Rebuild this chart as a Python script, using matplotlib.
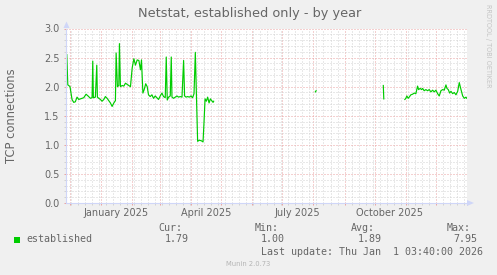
import datetime as dt
import numpy as np
import matplotlib
matplotlib.use("Agg")
import matplotlib.pyplot as plt
import matplotlib.dates as mdates
from matplotlib.patches import Polygon, Rectangle

W, H = 497, 275
START = dt.datetime(2024, 11, 27, 3, 40)
END = dt.datetime(2026, 1, 1, 3, 40)

# days since START and established connections; NaN = no data
days = [0.8, 1.8, 2.7, 4.0, 6.0, 7.7, 9.3, 11.0, 12.7, 14.3, 16.0, 17.7, 20.0,
        22.0, 24.3, 26.0, 26.7, 27.3, 29.3, 30.7, 31.3, 32.7, 34.3, 36.0, 37.7,
        39.3, 41.0, 42.7, 44.3, 46.0, 47.7, 49.3, 50.0, 51.3, 52.7, 53.3, 54.3,
        56.0, 57.7, 59.3, 61.0, 62.7, 64.3, 66.0, 67.7, 69.3, 71.0, 72.7, 74.3,
        75.3, 76.7, 78.0, 79.5, 81.0, 82.3, 84.0, 85.7, 87.3, 89.0, 90.7, 92.3,
        94.0, 95.7, 97.3, 99.0, 100.0, 101.0, 102.3, 104.0, 105.0, 105.7, 107.3,
        109.0, 110.7, 112.3, 114.0, 115.7, 117.3, 118.3, 119.7, 121.3, 123.0,
        124.7, 126.3, 127.7, 129.0, 131.3, 133.0, 135.0, 136.7, 137.7, 138.7,
        140.0, 141.3, 142.7, 144.0, 145.3, 146.7, 147.3, 148.0,
        248.7, 249.5, 250.0,
        316.5, 317.0, 318.0,
        338.0, 339.0, 340.0, 341.3, 342.3, 344.0, 345.7, 347.3, 349.0, 350.7,
        351.7, 353.3, 354.7, 355.7, 357.3, 359.0, 360.7, 362.3, 364.0, 365.7,
        367.3, 369.0, 370.7, 372.3, 374.0, 375.7, 377.3, 379.0, 380.0, 381.3,
        382.7, 384.0, 385.7, 387.3, 389.0, 390.7, 392.3, 394.0, 395.7, 397.3,
        399.0, 399.8]
conn = [2.55, 2.03, 2.02, 2.00, 1.78, 1.73, 1.74, 1.82, 1.78, 1.79, 1.80, 1.81, 1.87,
        1.84, 1.80, 1.81, 2.44, 1.81, 1.82, 2.37, 1.82, 1.80, 1.78, 1.75, 1.78,
        1.83, 1.80, 1.76, 1.72, 1.66, 1.72, 1.76, 2.58, 2.00, 2.02, 2.74, 2.00,
        2.02, 2.01, 2.06, 2.04, 2.02, 2.00, 2.32, 2.48, 2.37, 2.46, 2.45, 2.29,
        2.46, 1.89, 1.95, 2.05, 2.00, 1.86, 1.83, 1.86, 1.80, 1.84, 1.81, 1.78,
        1.84, 1.89, 1.83, 1.81, 2.51, 1.77, 1.82, 1.84, 2.51, 1.82, 1.80,
        1.82, 1.84, 1.82, 1.83, 1.82, 2.45, 1.84, 1.82, 1.83, 1.82,
        1.84, 1.81, 1.88, 2.59, 1.06, 1.08, 1.07, 1.05, 1.40, 1.79,
        1.75, 1.82, 1.72, 1.79, 1.76, 1.73, 1.75, np.nan,
        1.91, 1.93, np.nan,
        2.02, 1.79, np.nan,
        1.78, 1.80, 1.84, 1.80, 1.82, 1.86, 1.87, 1.89, 1.88, 2.01,
        1.95, 1.97, 1.95, 1.97, 1.93, 1.95, 1.93, 1.95, 1.91, 1.94,
        1.91, 1.94, 1.88, 1.84, 1.93, 1.95, 1.94, 2.03, 1.97, 1.95,
        1.89, 1.92, 1.88, 1.90, 1.86, 1.92, 2.07, 1.95, 1.84, 1.80,
        1.82, 1.80]

quarter_labels = ["January 2025", "April 2025", "July 2025", "October 2025"]
quarter_months = [dt.datetime(2025, 1, 16), dt.datetime(2025, 4, 16),
                  dt.datetime(2025, 7, 16), dt.datetime(2025, 10, 16)]
yticks = [0.0, 0.5, 1.0, 1.5, 2.0, 2.5, 3.0]

series_name = "established"
cur, vmin, avg, vmax = "1.79", "1.00", "1.89", "7.95"
last_update = "Last update: Thu Jan  1 03:40:00 2026"

FONT = "#666666"
AXIS = "#CFD6F8"
GREEN = "#00CC00"
MINOR = "#d2d2d2"
MAJOR = "#eaa3a3"


def px(x, y):
    """pixel position (from top-left) -> figure fraction"""
    return x / W, 1 - y / H


fig = plt.figure(figsize=(W / 100, H / 100), dpi=100, facecolor="#F0F0F0")
left, top = px(66, 28.5)
right, bottom = px(467, 203)
ax = fig.add_axes([left, bottom, right - left, top - bottom], facecolor="white")

x0 = mdates.date2num(START)
xs = x0 + np.array(days)
ax.plot(xs, conn, color=GREEN, lw=0.85, zorder=3)

ax.set_xlim(x0, mdates.date2num(END))
ax.set_ylim(0, 3.0)
ax.xaxis_date()

# grid, rrdtool style
ax.xaxis.set_major_locator(mdates.MonthLocator())
ax.xaxis.set_minor_locator(mdates.WeekdayLocator(byweekday=mdates.MO))
ax.xaxis.set_major_formatter(matplotlib.ticker.NullFormatter())
ax.set_yticks(yticks)
ax.set_yticklabels([f"{v:.1f}" for v in yticks])
ax.set_yticks(np.arange(0, 3.01, 0.1), minor=True)

dots = (0, (1, 2))
ax.grid(which="minor", color=MINOR, lw=0.72, ls=dots, zorder=1)
ax.grid(which="major", color=MAJOR, lw=0.72, ls=dots, zorder=1)
ax.set_axisbelow(True)

ax.tick_params(which="major", length=1.5, width=0.72, color=MAJOR, pad=3,
               labelsize=7, labelcolor=FONT)
ax.tick_params(which="minor", length=1.2, width=0.72, color=MINOR)

for s in ("top", "right"):
    ax.spines[s].set_visible(False)
for s in ("left", "bottom"):
    ax.spines[s].set_color(AXIS)
    ax.spines[s].set_linewidth(0.8)
    ax.spines[s].set_zorder(4)

for lab, d in zip(quarter_labels, quarter_months):
    ax.text(mdates.date2num(d), -0.055, lab, transform=ax.get_xaxis_transform(),
            ha="center", va="center", fontsize=7, color=FONT)

# axis arrows
fig.add_artist(Polygon([px(63.5, 28), px(69.5, 28), px(66.5, 21.5)], closed=True,
                       transform=fig.transFigure, color=AXIS, lw=0))
fig.add_artist(Polygon([px(467, 200), px(467, 206), px(474, 203)], closed=True,
                       transform=fig.transFigure, color=AXIS, lw=0))

# title, labels, watermarks
fig.text(*px(250, 14), "Netstat, established only - by year", ha="center", va="center",
         fontsize=9.3, color=FONT)
fig.text(*px(12, 115.5), "TCP connections", rotation=90, ha="center", va="center",
         fontsize=8.3, color=FONT)
fig.text(*px(488, 4), "RRDTOOL / TOBI OETIKER", rotation=270, ha="center", va="top",
         fontsize=4.7, color="#c4c4c4")
fig.text(*px(248, 264), "Munin 2.0.73", ha="center", va="center", fontsize=4.9,
         color="#b4b4b4")

# legend
mono = dict(family="DejaVu Sans Mono", fontsize=7.2, color=FONT, va="center")
fig.add_artist(Rectangle(px(14, 243), 6 / W, 6 / H, transform=fig.transFigure,
                         facecolor=GREEN, edgecolor="none"))
fig.text(*px(26, 239.5), series_name, **mono)
for hx, head, vx, val in [(158, "Cur:", 165, cur), (254.7, "Min:", 261, vmin),
                          (351.3, "Avg:", 357.3, avg), (446.7, "Max:", 453, vmax)]:
    fig.text(*px(hx, 227.7), head, **mono)
    fig.text(*px(vx, 239.5), val, **mono)
fig.text(*px(483, 251.7), last_update, ha="right", **mono)

fig.savefig("out.png", dpi=100, facecolor=fig.get_facecolor())
